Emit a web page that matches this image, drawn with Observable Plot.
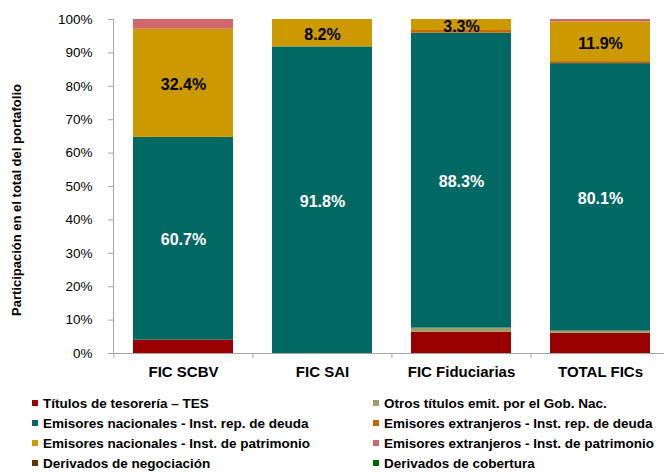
<!DOCTYPE html>
<html>
<head>
<meta charset="utf-8">
<script src="https://cdn.jsdelivr.net/npm/d3@7"></script>
<script src="https://cdn.jsdelivr.net/npm/@observablehq/plot@0.6"></script>
<style>
  html, body { margin: 0; padding: 0; background: #fff; }
  body { width: 664px; height: 473px; position: relative; overflow: hidden; font-family: "Liberation Sans", Arial, sans-serif; }
  #chart { position: absolute; left: 0; top: 0; }
  #ytitle { position: absolute; left: 15.5px; top: 200px; transform: translate(-50%, -50%) rotate(-90deg); white-space: nowrap; font-weight: bold; font-size: 13px; color: #000; }
  #legend { position: absolute; left: 0; top: 394px; width: 664px; }
  .item { position: absolute; height: 20px; line-height: 20px; font-size: 13.5px; font-weight: bold; color: #000; white-space: nowrap; }
  .sw { display: inline-block; width: 6px; height: 6px; margin-right: 5px; vertical-align: middle; position: relative; top: -1px; }
</style>
</head>
<body>
<div id="chart"></div>
<div id="ytitle"></div>
<div id="legend"></div>
<script>
const categories = ["FIC SCBV", "FIC SAI", "FIC Fiduciarias", "TOTAL FICs"];
const series = [
  "Títulos de tesorería – TES",
  "Otros títulos emit. por el Gob. Nac.",
  "Emisores nacionales - Inst. rep. de deuda",
  "Emisores extranjeros - Inst. rep. de deuda",
  "Emisores nacionales - Inst. de patrimonio",
  "Emisores extranjeros - Inst. de patrimonio",
  "Derivados de negociación",
  "Derivados de cobertura"
];
const colors = ["#990000", "#9c9f6a", "#016864", "#cc6600", "#cc9900", "#d0686b", "#663300", "#006600"];

const tes       = [4.0, 0.0, 6.4, 6.1];
const otrosGob  = [0.0, 0.0, 1.2, 0.6];
const nacDeuda  = [60.7, 91.8, 88.3, 80.1];
const extDeuda  = [0.0, 0.0, 0.8, 0.6];
const nacPatr   = [32.4, 8.2, 3.3, 11.9];
const extPatr   = [2.9, 0.0, 0.0, 0.7];
const derivNeg  = [0, 0, 0, 0];
const derivCob  = [0, 0, 0, 0];
const yTicks = [0, 10, 20, 30, 40, 50, 60, 70, 80, 90, 100];
const yTitle = "Participación en el total del portafolio";

const seriesValues = [tes, otrosGob, nacDeuda, extDeuda, nacPatr, extPatr, derivNeg, derivCob];
const data = [];
series.forEach((s, si) => categories.forEach((c, ci) => data.push({cat: c, series: s, value: seriesValues[si][ci]})));

const W = 664, H = 390, mL = 113, mR = -6, mT = 19, mB = 37;
const step = (W - mL - mR) / categories.length;
const axisColor = "#a6a6a6";
const fmt = v => v.toFixed(1) + "%";

const chart = Plot.plot({
  width: W, height: H,
  marginLeft: mL, marginRight: mR, marginTop: mT, marginBottom: mB,
  style: {fontFamily: "'Liberation Sans', Arial, sans-serif", background: "#fff", overflow: "visible"},
  x: {domain: categories, paddingInner: 0.278, paddingOuter: 0.139, axis: null},
  y: {domain: [0, 100], axis: null},
  color: {domain: series, range: colors},
  marks: [
    Plot.barY(data, Plot.stackY({x: "cat", y: "value", fill: "series", order: series})),
    Plot.text(data, Plot.stackY({x: "cat", y: "value", z: "series", order: series,
      text: d => d.series === series[2] ? fmt(d.value) : null,
      fill: "white", fontSize: 16, fontWeight: "bold", dy: 1.5})),
    Plot.text(data, Plot.stackY({x: "cat", y: "value", z: "series", order: series,
      text: d => d.series === series[4] ? fmt(d.value) : null,
      fill: "black", fontSize: 16, fontWeight: "bold", dy: 2})),
    Plot.frame({anchor: "left", stroke: axisColor}),
    Plot.ruleY([0], {stroke: axisColor}),
    Plot.ruleX(categories, {x: d => d, dx: -step / 2, y1: 0, y2: 0, insetBottom: -5, stroke: axisColor}),
    Plot.axisY({ticks: yTicks, tickFormat: d => d + "%", tickSize: 5, tickPadding: 16, fontSize: 13.5, stroke: axisColor, fill: "#000", label: null}),
    Plot.axisX({tickSize: 0, tickPadding: 13, fontSize: 15, fontWeight: "bold", fill: "#000", label: null})
  ]
});
document.getElementById("chart").appendChild(chart);
document.getElementById("ytitle").textContent = yTitle;

const legend = document.getElementById("legend");
const colX = [32, 373];
series.forEach((s, i) => {
  const div = document.createElement("div");
  div.className = "item";
  div.style.left = colX[i % 2] + "px";
  div.style.top = (Math.floor(i / 2) * 20) + "px";
  const sw = document.createElement("span");
  sw.className = "sw";
  sw.style.background = colors[i];
  div.appendChild(sw);
  div.appendChild(document.createTextNode(s));
  legend.appendChild(div);
});
</script>
</body>
</html>
